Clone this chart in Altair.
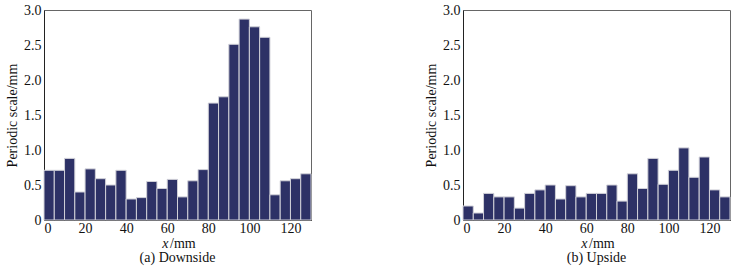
import altair as alt
import pandas as pd

x_start = [0, 5, 10, 15, 20, 25, 30, 35, 40, 45, 50, 55, 60, 65, 70, 75, 80, 85, 90, 95, 100, 105, 110, 115, 120, 125]
downside = [0.71, 0.71, 0.88, 0.40, 0.73, 0.59, 0.50, 0.71, 0.30, 0.32, 0.55, 0.45, 0.58, 0.33, 0.56, 0.72,
            1.67, 1.76, 2.51, 2.87, 2.76, 2.61, 0.36, 0.56, 0.59, 0.66]
upside = [0.20, 0.10, 0.38, 0.33, 0.33, 0.17, 0.38, 0.43, 0.50, 0.30, 0.49, 0.33, 0.38, 0.38, 0.50, 0.27,
          0.66, 0.45, 0.88, 0.51, 0.71, 1.03, 0.61, 0.90, 0.43, 0.33]
bin_width = 5
x_ticks = [0, 20, 40, 60, 80, 100, 120]
y_ticks = [0, 0.5, 1.0, 1.5, 2.0, 2.5, 3.0]

FONT = "Liberation Serif"
BAR = "#2d3166"
W, H = 267, 210


def panel(values, caption):
    df = pd.DataFrame({"x": x_start, "x2": [v + bin_width for v in x_start], "y": values})
    bars = alt.Chart(df).mark_rect(
        color=BAR, stroke="#d0d0d8", strokeWidth=1
    ).encode(
        x=alt.X("x:Q", scale=alt.Scale(domain=[0, 130], nice=False),
                axis=alt.Axis(values=x_ticks, title=None, ticks=False, grid=False, labelPadding=1)),
        x2="x2:Q",
        y=alt.Y("y:Q", scale=alt.Scale(domain=[0, 3]),
                axis=alt.Axis(values=y_ticks, title="Periodic scale/mm", ticks=False, grid=False,
                              labelExpr="datum.value == 0 ? '0' : format(datum.value, '.1f')",
                              labelPadding=3, titlePadding=4)),
        y2=alt.Y2(datum=0),
    )
    tx = alt.Chart(pd.DataFrame({"t": ["x"]})).mark_text(
        font=FONT, fontSize=14, fontStyle="italic", align="right", baseline="alphabetic", color="#111"
    ).encode(text="t:N", x=alt.value(W / 2 - 9), y=alt.value(H + 28))
    tmm = alt.Chart(pd.DataFrame({"t": ["/mm"]})).mark_text(
        font=FONT, fontSize=14, align="left", baseline="alphabetic", color="#111"
    ).encode(text="t:N", x=alt.value(W / 2 - 7.5), y=alt.value(H + 28))
    return alt.layer(bars, tx, tmm, title=alt.TitleParams(
        caption, orient="bottom", font=FONT, fontSize=14, fontWeight="normal", color="#111", offset=0)
    ).properties(width=W, height=H)


chart = alt.hconcat(
    panel(downside, "(a) Downside"), panel(upside, "(b) Upside"), spacing=112
).properties(
    background="white", padding={"left": 5, "top": 2, "right": 5, "bottom": 2}
).configure_view(
    stroke="#666", strokeWidth=1
).configure_axis(
    labelFont=FONT, titleFont=FONT, labelFontSize=14, titleFontSize=14, labelColor="#111", titleColor="#111",
    titleFontWeight="normal", labelFontWeight="normal", domainColor="#222"
)

chart.save("out.html", embed_options={"renderer": "svg", "actions": False})
